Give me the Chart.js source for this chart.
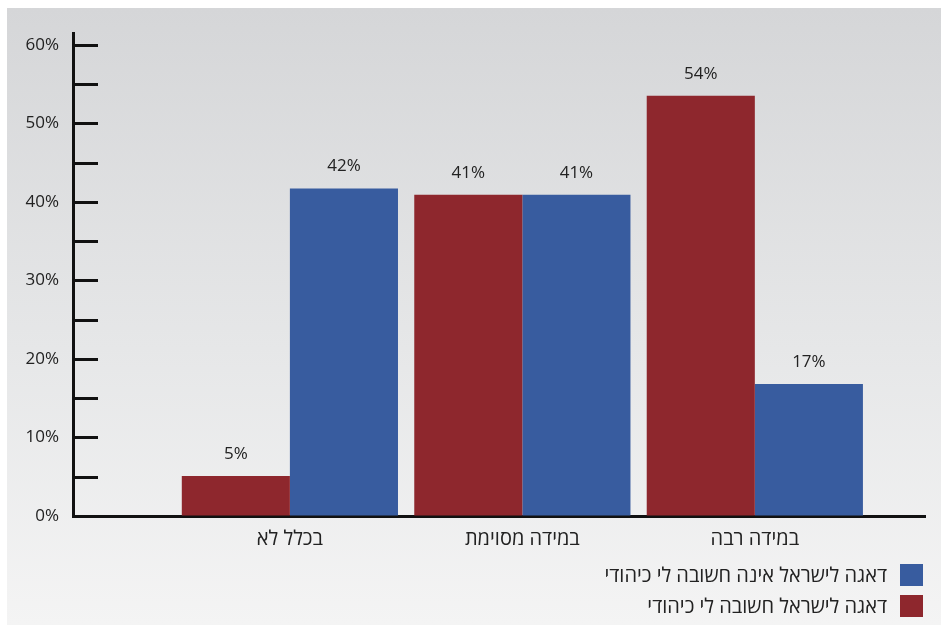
<!DOCTYPE html>
<html lang="he">
<head>
<meta charset="utf-8">
<script src="https://cdn.jsdelivr.net/npm/chart.js@4/dist/chart.umd.min.js"></script>
<style>
  html, body { margin: 0; padding: 0; background: #fff; }
  #panel {
    position: absolute; left: 7px; top: 8px; width: 934px; height: 617px;
    background: linear-gradient(to bottom, #d5d6d8 0%, #e6e7e8 55%, #f4f4f4 100%);
    font-family: "Open Sans", "Noto Sans", "DejaVu Sans", sans-serif;
  }
  #panel canvas { position: absolute; left: 0; top: 0; }
  #legend {
    position: absolute; right: 18px; top: 551px; direction: rtl;
    font-size: 20px; color: #222;
  }
  .item { display: flex; align-items: center; height: 31px; }
  .sw { width: 23px; height: 22px; margin-left: 13px; }
</style>
</head>
<body>
<div id="panel">
  <canvas id="c" width="934" height="617"></canvas>
  <div id="legend"></div>
</div>
<script>
  // categories (positions 1..3 on the x scale)
  const categories = ["בכלל לא", "במידה מסוימת", "במידה רבה"];
  const importantLabel = "דאגה לישראל חשובה לי כיהודי";
  const notImportantLabel = "דאגה לישראל אינה חשובה לי כיהודי";
  const importantValues = [5.1, 40.9, 53.5];
  const notImportantValues = [41.7, 40.9, 16.8];
  const red = "#8e272d";
  const blue = "#385c9f";
  const font = "'Open Sans', 'Noto Sans', 'DejaVu Sans', sans-serif";

  const toPoints = (vals) => vals.map((v, i) => ({ x: i + 1, y: v }));

  const tickMarks = {
    id: "tickMarks",
    afterDraw(chart) {
      const ctx = chart.ctx;
      const y = chart.scales.y;
      const left = chart.chartArea.left;
      ctx.save();
      ctx.strokeStyle = "#111";
      ctx.lineWidth = 3;
      for (let v = 5; v <= 60; v += 5) {
        const py = Math.round(y.getPixelForValue(v)) + 0.5;
        ctx.beginPath();
        ctx.moveTo(left, py);
        ctx.lineTo(left + 25, py);
        ctx.stroke();
      }
      ctx.restore();
    },
  };

  const valueLabels = {
    id: "valueLabels",
    afterDatasetsDraw(chart) {
      const ctx = chart.ctx;
      ctx.save();
      ctx.font = "17px " + font;
      ctx.fillStyle = "#222";
      ctx.textAlign = "center";
      ctx.textBaseline = "middle";
      chart.data.datasets.forEach((ds, di) => {
        chart.getDatasetMeta(di).data.forEach((bar, i) => {
          ctx.fillText(Math.round(ds.data[i].y) + "%", bar.x, bar.y - 22);
        });
      });
      ctx.restore();
    },
  };

  const chart = new Chart(document.getElementById("c"), {
    type: "bar",
    data: {
      datasets: [
        { label: importantLabel, data: toPoints(importantValues), backgroundColor: red },
        { label: notImportantLabel, data: toPoints(notImportantValues), backgroundColor: blue },
      ],
    },
    options: {
      responsive: false,
      animation: false,
      categoryPercentage: 0.93,
      barPercentage: 1,
      layout: { padding: { left: 0, right: 16, top: 25, bottom: 69 } },
      plugins: { legend: { display: false }, tooltip: { enabled: false } },
      scales: {
        x: {
          type: "linear",
          min: 0.067,
          max: 3.732,
          offset: false,
          grid: { display: false },
          border: { color: "#111", width: 3 },
          afterFit: (s) => { s.height = 40; },
          ticks: {
            stepSize: 1,
            includeBounds: false,
            autoSkip: false,
            maxRotation: 0,
            padding: 3,
            color: "#222",
            font: { size: 20, family: font },
            callback: (v) => categories[v - 1] || "",
          },
        },
        y: {
          min: 0,
          max: 61.5,
          grid: { drawOnChartArea: false, drawTicks: false },
          border: { color: "#111", width: 3 },
          afterFit: (s) => { s.width = 66; },
          ticks: {
            stepSize: 5,
            includeBounds: false,
            autoSkip: false,
            padding: 14,
            color: "#222",
            font: { size: 17, family: font },
            callback: (v) => (v % 10 === 0 ? v + "%" : ""),
          },
        },
      },
    },
    plugins: [tickMarks, valueLabels],
  });

  // legend: reversed order, swatch on the right
  const legend = document.getElementById("legend");
  chart.data.datasets.slice().reverse().forEach((ds) => {
    const row = document.createElement("div");
    row.className = "item";
    const sw = document.createElement("span");
    sw.className = "sw";
    sw.style.background = ds.backgroundColor;
    const txt = document.createElement("span");
    txt.textContent = ds.label;
    row.appendChild(sw);
    row.appendChild(txt);
    legend.appendChild(row);
  });
</script>
</body>
</html>
